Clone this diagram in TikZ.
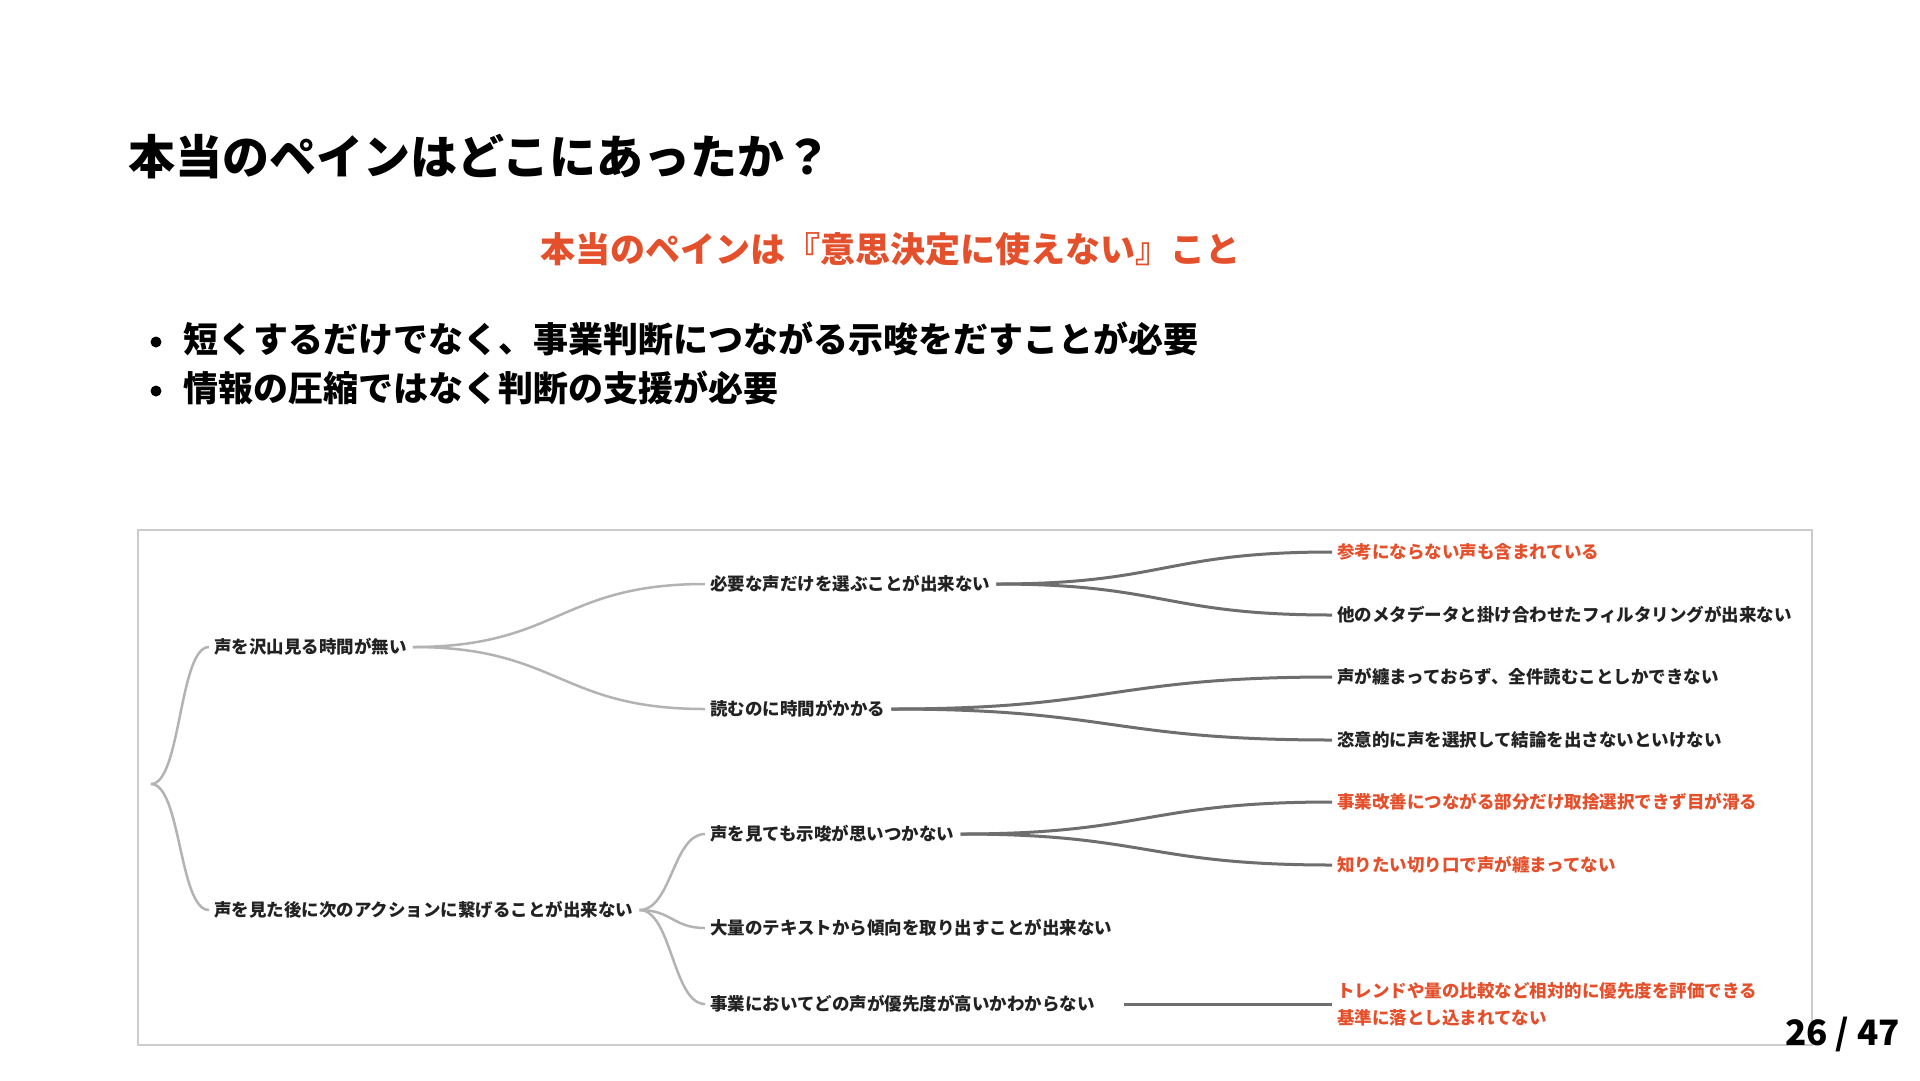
\documentclass[tikz,border=0pt]{standalone}
\usepackage{fontspec}
\setmainfont{Noto Sans CJK JP}
\usepackage{xcolor}
\definecolor{rojo}{HTML}{E4502B}
\definecolor{tinta}{HTML}{222222}
\definecolor{claro}{HTML}{B3B3B3}
\definecolor{oscuro}{HTML}{6E6E6E}
\definecolor{marco}{HTML}{CCCCCC}

\begin{document}
\begin{tikzpicture}[x=1pt,y=-1pt,
    hoja/.style={anchor=west,inner sep=0pt,text=tinta,font=\bfseries\fontsize{17.5}{27}\selectfont},
    rama1/.style={claro,line width=2.5pt},
    rama2/.style={oscuro,line width=3pt}]
      \useasboundingbox[fill=white] (0,0) rectangle (1920,1080);
      % cabecera
      \node[anchor=west,inner sep=0pt,font=\bfseries\fontsize{47}{56}\selectfont] (title) at (128,157) {本当のペインはどこにあったか？};
      \node[inner sep=0pt,text=rojo,font=\bfseries\fontsize{35}{42}\selectfont] (pain) at (890,249) {本当のペインは『意思決定に使えない』こと};
      \node[circle,fill=black,inner sep=0pt,minimum size=11pt] (dot1) at (156,342) {};
      \node[anchor=west,inner sep=0pt,font=\bfseries\fontsize{35}{42}\selectfont] (bullet1) at (183,339) {短くするだけでなく、事業判断につながる示唆をだすことが必要};
      \node[circle,fill=black,inner sep=0pt,minimum size=11pt] (dot2) at (156,391) {};
      \node[anchor=west,inner sep=0pt,font=\bfseries\fontsize{35}{42}\selectfont] (bullet2) at (183,388) {情報の圧縮ではなく判断の支援が必要};
      \draw[marco,line width=1.5pt] (138,530) rectangle (1812,1045);
      % arbol
      \coordinate (root) at (151,784);
      \node[hoja] (notime) at (214,647) {声を沢山見る時間が無い};
      \node[hoja] (noaction) at (214,910) {声を見た後に次のアクションに繋げることが出来ない};
      \node[hoja] (pick) at (710,584) {必要な声だけを選ぶことが出来ない};
      \node[hoja] (slow) at (710,709) {読むのに時間がかかる};
      \node[hoja] (noidea) at (710,834) {声を見ても示唆が思いつかない};
      \node[hoja] (trend) at (710,928) {大量のテキストから傾向を取り出すことが出来ない};
      \node[hoja] (prio) at (710,1004) {事業においてどの声が優先度が高いかわからない};
      \node[hoja,text=rojo] (useless) at (1337,552) {参考にならない声も含まれている};
      \node[hoja] (filter) at (1337,615) {他のメタデータと掛け合わせたフィルタリングが出来ない};
      \node[hoja] (bundle) at (1337,677) {声が纏まっておらず、全件読むことしかできない};
      \node[hoja] (arbitrary) at (1337,740) {恣意的に声を選択して結論を出さないといけない};
      \node[hoja,text=rojo] (skim) at (1337,802) {事業改善につながる部分だけ取捨選択できず目が滑る};
      \node[hoja,text=rojo] (angle) at (1337,865) {知りたい切り口で声が纏まってない};
      \node[hoja,text=rojo,align=left] (scale) at (1337,1004) {トレンドや量の比較など相対的に優先度を評価できる\\基準に落とし込まれてない};
      \draw[rama1] (root) .. controls +(30,0) and +(-30,0) .. ([xshift=-5pt]notime.west);
      \draw[rama1] (root) .. controls +(30,0) and +(-30,0) .. ([xshift=-5pt]noaction.west);
      \draw[rama1] ([xshift=6pt]notime.east) .. controls +(146,0) and +(-146,0) .. ([xshift=-5pt]pick.west);
      \draw[rama1] ([xshift=6pt]notime.east) .. controls +(146,0) and +(-146,0) .. ([xshift=-5pt]slow.west);
      \draw[rama1] ([xshift=6pt]noaction.east) .. controls +(32,0) and +(-32,0) .. ([xshift=-5pt]noidea.west);
      \draw[rama1] ([xshift=6pt]noaction.east) .. controls +(32,0) and +(-32,0) .. ([xshift=-5pt]trend.west);
      \draw[rama1] ([xshift=6pt]noaction.east) .. controls +(32,0) and +(-32,0) .. ([xshift=-5pt]prio.west);
      \draw[rama2] ([xshift=6pt]pick.east) .. controls +(168,0) and +(-168,0) .. ([xshift=-5pt]useless.west);
      \draw[rama2] ([xshift=6pt]pick.east) .. controls +(168,0) and +(-168,0) .. ([xshift=-5pt]filter.west);
      \draw[rama2] ([xshift=6pt]slow.east) .. controls +(221,0) and +(-221,0) .. ([xshift=-5pt]bundle.west);
      \draw[rama2] ([xshift=6pt]slow.east) .. controls +(221,0) and +(-221,0) .. ([xshift=-5pt]arbitrary.west);
      \draw[rama2] ([xshift=6pt]noidea.east) .. controls +(186,0) and +(-186,0) .. ([xshift=-5pt]skim.west);
      \draw[rama2] ([xshift=6pt]noidea.east) .. controls +(186,0) and +(-186,0) .. ([xshift=-5pt]angle.west);
      \draw[rama2] ([xshift=29pt]prio.east) -- ([xshift=-5pt]scale.west);
      % pagina
      \node[anchor=base east,inner sep=0pt,font=\bfseries\fontsize{35}{42}\selectfont] (page) at (1900,1045) {26 / 47};
    \end{tikzpicture}
\end{document}
